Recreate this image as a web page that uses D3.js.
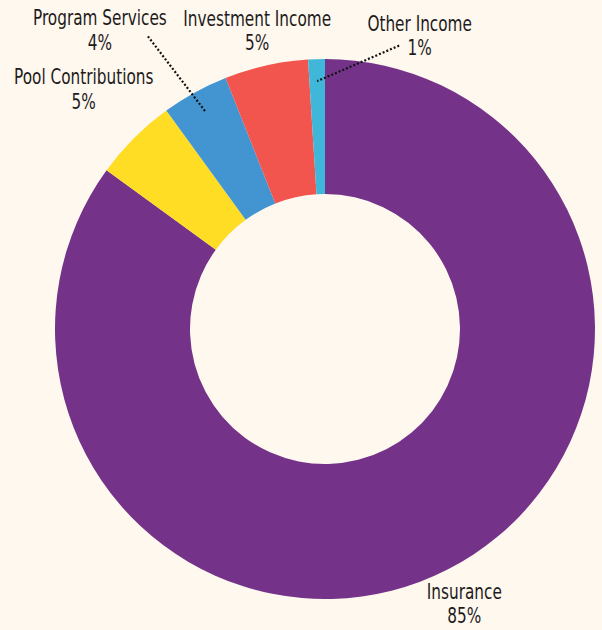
<!DOCTYPE html>
<html>
<head>
<meta charset="utf-8">
<script src="https://cdn.jsdelivr.net/npm/d3@7"></script>
<style>
  html, body { margin: 0; padding: 0; background: #fef8ee; }
  svg { display: block; }
  .lbl { font-family: "Liberation Sans Narrow", "DejaVu Sans Condensed", sans-serif; font-size: 21px; fill: #1e1b1c; }
</style>
</head>
<body>
<div id="chart"></div>
<script>
// data
var categories = ["Insurance", "Pool Contributions", "Program Services", "Investment Income", "Other Income"];
var values     = [85, 5, 4, 5, 1];
var pctLabels  = ["85%", "5%", "4%", "5%", "1%"];
var colors     = ["#743389", "#fedd24", "#4395d1", "#f2554e", "#40b7d9"];

// label placement (angle in degrees clockwise from top, radius from centre)
var labelAngle  = [153.1, 314.8, 323, 347.2, 17.9];
var labelRadius = [308, 340, 374, 306, 308];
var leader      = [null, null, [48, 6], null, [-20.5, 9.7]];

var width = 602, height = 630;
var cx = 325, cy = 329, outerR = 270, innerR = 135;

var svg = d3.select("#chart").append("svg")
  .attr("width", width)
  .attr("height", height);

svg.append("rect").attr("width", width).attr("height", height).attr("fill", "#fef8ee");

var g = svg.append("g").attr("transform", "translate(" + cx + "," + cy + ")");

var data = categories.map(function(c, i) { return {name: c, value: values[i], pct: pctLabels[i], i: i}; });

var pie = d3.pie().sort(null).value(function(d) { return d.value; });
var arc = d3.arc().innerRadius(innerR).outerRadius(outerR);

var arcs = pie(data);

g.selectAll("path.slice").data(arcs).enter().append("path")
  .attr("class", "slice")
  .attr("d", arc)
  .attr("fill", function(d) { return colors[d.data.i]; });

var polar = function(deg, r) {
  var a = deg * Math.PI / 180;
  return [r * Math.sin(a), -r * Math.cos(a)];
};

// leader lines
arcs.forEach(function(d) {
  var i = d.data.i;
  if (!leader[i]) return;
  var p = polar(labelAngle[i], labelRadius[i]);
  var mid = (d.startAngle + d.endAngle) / 2 * 180 / Math.PI;
  var e = polar(mid, 248);
  g.append("line")
    .attr("x1", p[0] + leader[i][0]).attr("y1", p[1] + leader[i][1])
    .attr("x2", e[0]).attr("y2", e[1])
    .attr("stroke", "#111").attr("stroke-width", 2.2)
    .attr("stroke-dasharray", "2,2");
});

// labels (squeezed horizontally to look like the condensed face)
var lbl = g.selectAll("g.lbl").data(arcs).enter().append("g")
  .attr("class", "lbl")
  .attr("transform", function(d) {
    var p = polar(labelAngle[d.data.i], labelRadius[d.data.i]);
    return "translate(" + p[0] + "," + p[1] + ") scale(0.81,1)";
  });

lbl.append("text").attr("text-anchor", "middle").attr("y", -5).text(function(d) { return d.data.name; });
lbl.append("text").attr("text-anchor", "middle").attr("y", 19.5).text(function(d) { return d.data.pct; });
</script>
</body>
</html>
